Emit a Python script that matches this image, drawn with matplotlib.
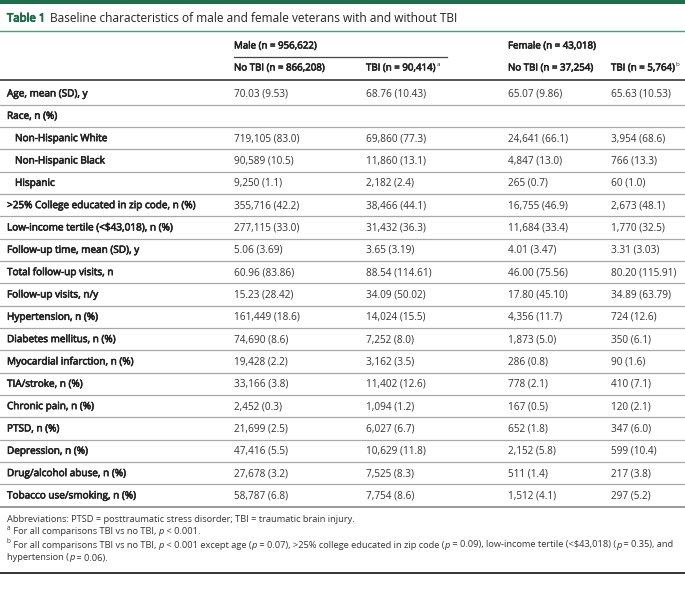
import matplotlib
matplotlib.use("Agg")
import matplotlib.pyplot as plt
import matplotlib.patheffects as pe

plt.rcParams['font.family'] = ['Open Sans', 'DejaVu Sans']

title_label = "Table 1"
title_text = "Baseline characteristics of male and female veterans with and without TBI"
group_headers = ["Male (n = 956,622)", "Female (n = 43,018)"]
col_headers = ["No TBI (n = 866,208)", "TBI (n = 90,414)", "No TBI (n = 37,254)", "TBI (n = 5,764)"]
col_header_marks = ["", "a", "", "b"]

row_labels = [
    "Age, mean (SD), y", "Race, n (%)", "Non-Hispanic White", "Non-Hispanic Black",
    "Hispanic", ">25% College educated in zip code, n (%)", "Low-income tertile (<$43,018), n (%)",
    "Follow-up time, mean (SD), y", "Total follow-up visits, n", "Follow-up visits, n/y",
    "Hypertension, n (%)", "Diabetes mellitus, n (%)", "Myocardial infarction, n (%)",
    "TIA/stroke, n (%)", "Chronic pain, n (%)", "PTSD, n (%)", "Depression, n (%)",
    "Drug/alcohol abuse, n (%)", "Tobacco use/smoking, n (%)",
]
indented = [False, False, True, True, True] + [False] * 14

male_no_tbi = ["70.03 (9.53)", "", "719,105 (83.0)", "90,589 (10.5)", "9,250 (1.1)",
               "355,716 (42.2)", "277,115 (33.0)", "5.06 (3.69)", "60.96 (83.86)",
               "15.23 (28.42)", "161,449 (18.6)", "74,690 (8.6)", "19,428 (2.2)",
               "33,166 (3.8)", "2,452 (0.3)", "21,699 (2.5)", "47,416 (5.5)",
               "27,678 (3.2)", "58,787 (6.8)"]
male_tbi = ["68.76 (10.43)", "", "69,860 (77.3)", "11,860 (13.1)", "2,182 (2.4)",
            "38,466 (44.1)", "31,432 (36.3)", "3.65 (3.19)", "88.54 (114.61)",
            "34.09 (50.02)", "14,024 (15.5)", "7,252 (8.0)", "3,162 (3.5)",
            "11,402 (12.6)", "1,094 (1.2)", "6,027 (6.7)", "10,629 (11.8)",
            "7,525 (8.3)", "7,754 (8.6)"]
female_no_tbi = ["65.07 (9.86)", "", "24,641 (66.1)", "4,847 (13.0)", "265 (0.7)",
                 "16,755 (46.9)", "11,684 (33.4)", "4.01 (3.47)", "46.00 (75.56)",
                 "17.80 (45.10)", "4,356 (11.7)", "1,873 (5.0)", "286 (0.8)",
                 "778 (2.1)", "167 (0.5)", "652 (1.8)", "2,152 (5.8)",
                 "511 (1.4)", "1,512 (4.1)"]
female_tbi = ["65.63 (10.53)", "", "3,954 (68.6)", "766 (13.3)", "60 (1.0)",
              "2,673 (48.1)", "1,770 (32.5)", "3.31 (3.03)", "80.20 (115.91)",
              "34.89 (63.79)", "724 (12.6)", "350 (6.1)", "90 (1.6)",
              "410 (7.1)", "120 (2.1)", "347 (6.0)", "599 (10.4)",
              "217 (3.8)", "297 (5.2)"]

# footnotes as runs: (text, kind) kind: n = normal, i = italic, s = superscript
footnotes = [
    [("Abbreviations: PTSD = posttraumatic stress disorder; TBI = traumatic brain injury.", "n")],
    [("a", "s"), (" For all comparisons TBI vs no TBI, ", "n"), ("p", "i"), (" < 0.001.", "n")],
    [("b", "s"), (" For all comparisons TBI vs no TBI, ", "n"), ("p", "i"), (" < 0.001 except age (", "n"),
     ("p", "i"), (" = 0.07), >25% college educated in zip code (", "n"), ("p", "i"),
     (" = 0.09), low-income tertile (<$43,018) (", "n"), ("p", "i"), (" = 0.35), and", "n")],
    [("hypertension (", "n"), ("p", "i"), (" = 0.06).", "n")],
]

W, H = 685, 597
GREEN = "#1f6e4e"
fig = plt.figure(figsize=(W / 100, H / 100), dpi=100)
ax = fig.add_axes([0, 0, 1, 1])
ax.set_xlim(0, W)
ax.set_ylim(H, 0)
ax.axis("off")
renderer = fig.canvas.get_renderer()


def bold_fx(color, lw=0.45):
    return [pe.withStroke(linewidth=lw, foreground=color)]


def advance(s, **kw):
    a = ax.text(0, 0, "x" + s + "x", **kw)
    b = ax.text(0, 0, "xx", **kw)
    w = a.get_window_extent(renderer).width - b.get_window_extent(renderer).width
    a.remove(); b.remove()
    return w


def draw_runs(x, y, runs, fs, color):
    for s, kind in runs:
        if kind == "s":
            kw = dict(fontsize=fs * 0.7, color=color)
            ax.text(x, y - fs * 0.45, s, va="center", ha="left", **kw)
        elif kind == "i":
            kw = dict(fontsize=fs, color=color, style="italic")
            ax.text(x, y, s, va="center", ha="left", **kw)
        else:
            kw = dict(fontsize=fs, color=color)
            ax.text(x, y, s, va="center", ha="left", **kw)
        x += advance(s, **kw)
    return x


# top green bar
ax.axhspan(0, 3.5, color=GREEN, lw=0)
# title
ax.text(7, 19, title_label, color=GREEN, fontsize=8.2, va="center", ha="left",
        path_effects=bold_fx(GREEN, 0.7))
ax.text(50, 19, title_text, color="#222222", fontsize=8.6, va="center", ha="left")
ax.plot([0, W], [30.5, 30.5], color="#4f9a78", lw=1.0)

col_x = [234, 366, 508, 611]
body_fs = 7.2
bold_fs = 7.2
head_fs = 7.0
txt_col = "#222222"

# group headers
ax.text(col_x[0], 46, group_headers[0], fontsize=head_fs, va="center", color=txt_col,
        path_effects=bold_fx(txt_col))
ax.text(col_x[2], 46, group_headers[1], fontsize=head_fs, va="center", color=txt_col,
        path_effects=bold_fx(txt_col))
ax.plot([col_x[0], 447], [57, 57], color="#444444", lw=0.9)
for x, h, m in zip(col_x, col_headers, col_header_marks):
    t = ax.text(x, 68, h, fontsize=head_fs, va="center", color=txt_col,
                path_effects=bold_fx(txt_col))
    if m:
        w = t.get_window_extent(renderer).width
        ax.text(x + w + 0.5, 65, m, fontsize=4.6, va="center", color=txt_col)
ax.plot([0, W], [79.5, 79.5], color="#555555", lw=1.4)

y0, dy = 94, 22.33
for i, lab in enumerate(row_labels):
    y = y0 + i * dy
    x = 15 if indented[i] else 7
    ax.text(x, y, lab, fontsize=bold_fs, va="center", color=txt_col,
            path_effects=bold_fx(txt_col))
    for x, col in zip(col_x, [male_no_tbi, male_tbi, female_no_tbi, female_tbi]):
        if col[i]:
            ax.text(x, y, col[i], fontsize=body_fs, va="center", color="#333333")
    ly = y + dy / 2 - 0.5
    if i < len(row_labels) - 1:
        ax.plot([0, W], [ly, ly], color="#a8a8a8", lw=0.9)
    else:
        ax.plot([0, W], [ly, ly], color="#999999", lw=1.4)

fy = [519, 532, 545, 558]
for y, f in zip(fy, footnotes):
    draw_runs(7, y, f, 6.7, "#333333")
ax.plot([0, W], [573, 573], color="#111111", lw=1.2)

fig.savefig("out.png", dpi=100)
